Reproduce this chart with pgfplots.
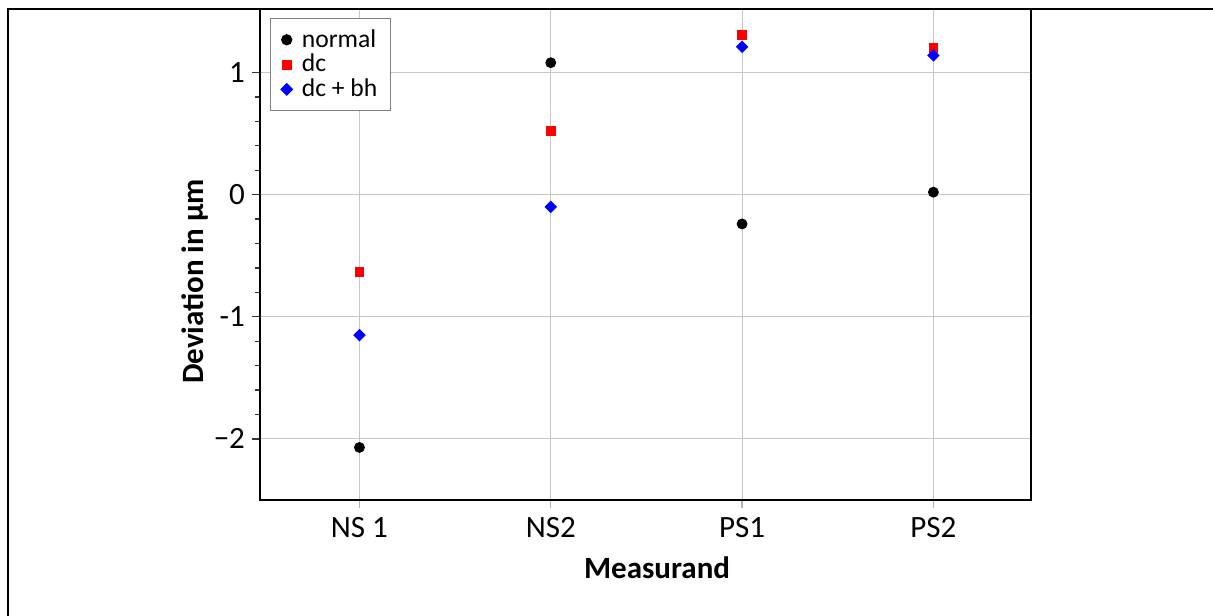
\documentclass[border=0pt]{standalone}
\usepackage{pgfplots}
\pgfplotsset{compat=1.18}
\usepackage{fontspec}
\setmainfont{Carlito}
\begin{document}
\begin{tikzpicture}
\begin{axis}[
  scale only axis, width=385.5pt, height=245.5pt,
  xmin=-0.52, xmax=3.51, ymin=-2.5, ymax=1.52,
  xtick={0,1,2,3}, xticklabels={NS 1,NS2,PS1,PS2},
  ytick={-2,-1,0,1}, yticklabels={−2,-1,0,1},
  minor y tick num=4,
  grid=major, grid style={black!22, line width=0.5pt},
  axis line style={line width=1pt},
  tick align=outside, xtick pos=bottom, ytick pos=left,
  major tick length=4pt, minor tick length=2.5pt,
  tick style={black!80, line width=0.6pt},
  x tick style={black!30},
  ticklabel style={font=\fontsize{15.5}{18}\selectfont},
  xticklabel style={yshift=-1pt},
  xlabel={\textbf{Measurand}},
  ylabel={\textbf{Deviation in µm}},
  label style={font=\fontsize{15.5}{18}\selectfont},
  xlabel style={at={(axis description cs:0.515,-0.1385)}, anchor=center},
  ylabel style={at={(axis description cs:-0.0843,0.445)}, anchor=center, rotate=0},
  legend image code/.code={\path (0,0) (0.3cm,0); \draw[#1] plot coordinates {(0.15cm,0cm)};},
  legend style={at={(0.013,0.982)}, anchor=north west, draw=black!50, line width=0.6pt,
    font=\fontsize{12.8}{14}\selectfont, row sep=0pt, inner xsep=3.5pt, inner ysep=4.5pt,
    nodes={inner xsep=3pt, inner ysep=1pt}},
  legend cell align=left,
  clip=false,
]
\addplot[only marks, mark=*, mark size=2.5pt, color=black] coordinates {
  (0,-2.07) (1,1.08) (2,-0.24) (3,0.02)};
\addlegendentry{normal}
\addplot[only marks, mark=square*, mark size=2.2pt, color=red] coordinates {
  (0,-0.63) (1,0.52) (2,1.31) (3,1.20)};
\addlegendentry{dc}
\addplot[only marks, mark=square*, mark size=2pt, mark options={rotate=45}, color=blue] coordinates {
  (0,-1.15) (1,-0.10) (2,1.21) (3,1.14)};
\addlegendentry{dc + bh}
\path[use as bounding box] (rel axis cs:-0.3372,-0.2363) rectangle (rel axis cs:1.2361,1.0183);
\draw[line width=1pt, black] (rel axis cs:-0.3268,-0.2363) -- (rel axis cs:-0.3268,1.0003) -- (rel axis cs:1.2361,1.0003);
\end{axis}
\end{tikzpicture}
\end{document}
